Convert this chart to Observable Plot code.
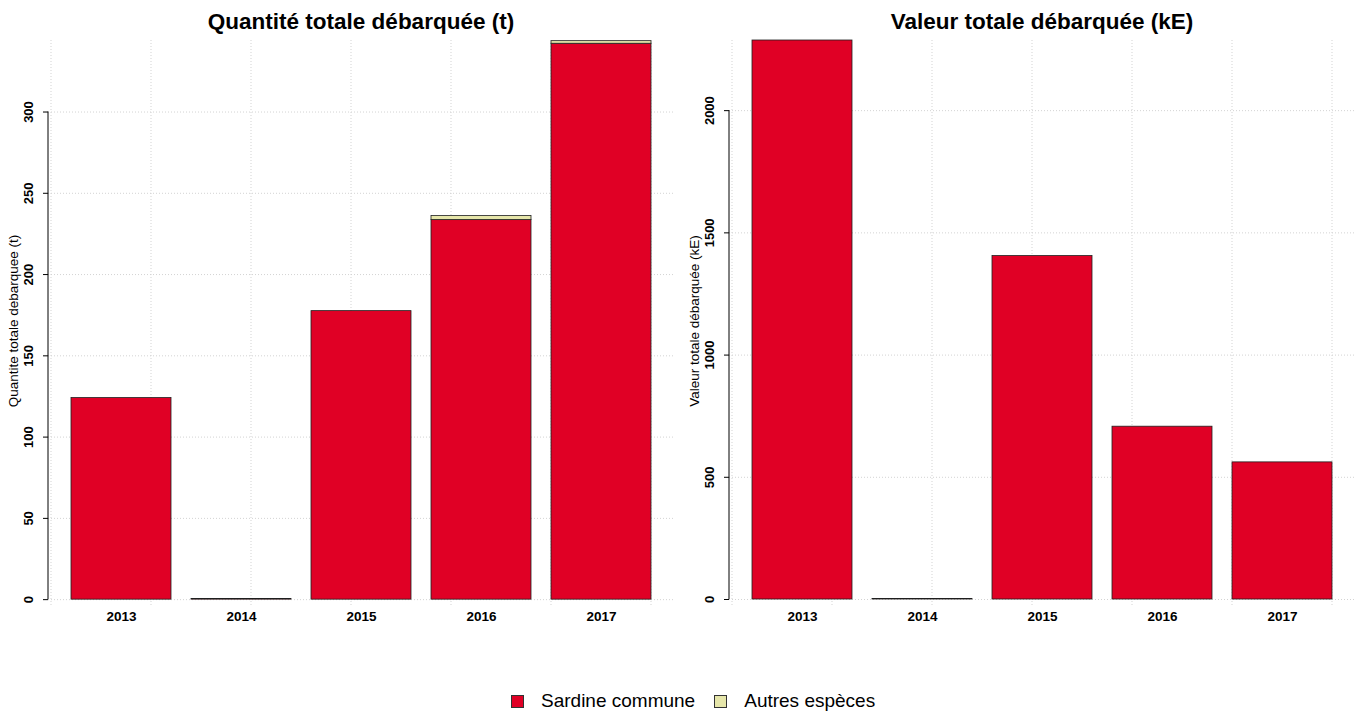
<!DOCTYPE html>
<html>
<head>
<meta charset="utf-8">
<script src="https://cdn.jsdelivr.net/npm/d3@7"></script>
<script src="https://cdn.jsdelivr.net/npm/@observablehq/plot@0.6"></script>
<style>
  body { margin: 0; background: #fff; font-family: "Liberation Sans", Arial, sans-serif; }
  #wrap { position: relative; width: 1359px; height: 713px; overflow: hidden; }
  .panel { position: absolute; top: 0; }
  .title { position: absolute; top: 9px; font-weight: bold; font-size: 22.5px; line-height: 26px; text-align: center; color: #000; }
  #legend { position: absolute; top: 690px; left: 511px; display: flex; align-items: center; font-size: 19px; color: #000; white-space: nowrap; }
  #legend .sw { width: 11px; height: 11px; border: 1px solid #333; display: inline-block; }
  #legend .lab { margin-left: 17px; margin-right: 19px; }
</style>
</head>
<body>
<div id="wrap">
  <div class="panel" id="left"></div>
  <div class="panel" id="right" style="left:680px"></div>
  <div class="title" style="left:48px;width:626px">Quantité totale débarquée (t)</div>
  <div class="title" style="left:729px;width:626px">Valeur totale débarquée (kE)</div>
  <div id="legend"></div>
</div>
<script>
// ---- data ----
const years = ["2013", "2014", "2015", "2016", "2017"];
const species = ["Sardine commune", "Autres espèces"];
const colors = ["#E00025", "#E6E6AA"];
const quantSardine = [124, 0.4, 177.5, 233.5, 342];
const quantAutres  = [0, 0, 0, 2.5, 1.6];
const valueSardine = [2287, 2, 1405, 707, 561];
const valueAutres  = [0, 0, 0, 0, 0];
const quantTicks = [0, 50, 100, 150, 200, 250, 300];
const valueTicks = [0, 500, 1000, 1500, 2000];
const quantLabel = "Quantite totale debarquee (t)";
const valueLabel = "Valeur totale débarquée (kE)";

function toLong(a, b) {
  const out = [];
  years.forEach((yr, i) => {
    out.push({year: yr, species: species[0], value: a[i]});
    out.push({year: yr, species: species[1], value: b[i]});
  });
  return out;
}

const FONT = "Liberation Sans, Arial, sans-serif";

// vertical dotted grid at R barplot user coordinates 0..6 (bar width = 1 unit, space 0.2)
function vGrid(index, scales, values, dims) {
  const x = scales.x;
  const bw = typeof x.bandwidth === "function" ? x.bandwidth() : x.bandwidth;
  const x0 = x(years[0]) - 0.2 * bw;
  const g = d3.create("svg:g");
  for (let k = 0; k <= 6; k++) {
    const px = x0 + k * bw;
    g.append("line")
      .attr("x1", px).attr("x2", px)
      .attr("y1", dims.marginTop).attr("y2", dims.height - dims.marginBottom)
      .attr("stroke", "#d3d3d3").attr("stroke-dasharray", "1,2");
  }
  return g.node();
}

function axisLine(ticks) {
  return (index, scales, values, dims) => {
    const y = scales.y;
    return d3.create("svg:line")
      .attr("x1", dims.marginLeft).attr("x2", dims.marginLeft)
      .attr("y1", y(ticks[0])).attr("y2", y(ticks[ticks.length - 1]))
      .attr("stroke", "#000").attr("stroke-width", 1).node();
  };
}

function panel(data, yDomain, ticks, label, mLeft, mRight, width) {
  return Plot.plot({
    width, height: 640,
    marginTop: 40, marginBottom: 35, marginLeft: mLeft, marginRight: mRight,
    style: {fontFamily: FONT, background: "transparent", color: "#000", overflow: "visible"},
    x: {type: "band", domain: years, paddingInner: 1 / 6, paddingOuter: 0.19, axis: null},
    y: {domain: yDomain, axis: null},
    color: {domain: species, range: colors},
    marks: [
      Plot.gridY(ticks, {stroke: "#d3d3d3", strokeOpacity: 1, strokeDasharray: "1,2"}),
      vGrid,
      Plot.barY(data, {x: "year", y: "value", fill: "species", stroke: "#1e1e1e", strokeWidth: 0.8}),
      Plot.axisX({tickSize: 0, tickPadding: 6, fontSize: 13.5, fontWeight: "bold", label: null}),
      Plot.axisY({ticks, tickSize: 5, tickPadding: 10.5, tickRotate: -90, fontSize: 13, fontWeight: "bold", label: null, tickFormat: d => String(d)}),
      axisLine(ticks),
      Plot.text([label], {frameAnchor: "left", textAnchor: "middle", dx: -35, dy: -2, rotate: -90, fontSize: 13.5})
    ]
  });
}

document.getElementById("left").append(
  panel(toLong(quantSardine, quantAutres), [-3.6, 344], quantTicks, quantLabel, 48, 6, 680)
);
document.getElementById("right").append(
  panel(toLong(valueSardine, valueAutres), [-24.5, 2287], valueTicks, valueLabel, 49, 4, 679)
);

// legend
const leg = document.getElementById("legend");
species.forEach((s, i) => {
  const sw = document.createElement("span");
  sw.className = "sw";
  sw.style.background = colors[i];
  const lab = document.createElement("span");
  lab.className = "lab";
  lab.textContent = s;
  leg.append(sw, lab);
});
</script>
</body>
</html>
